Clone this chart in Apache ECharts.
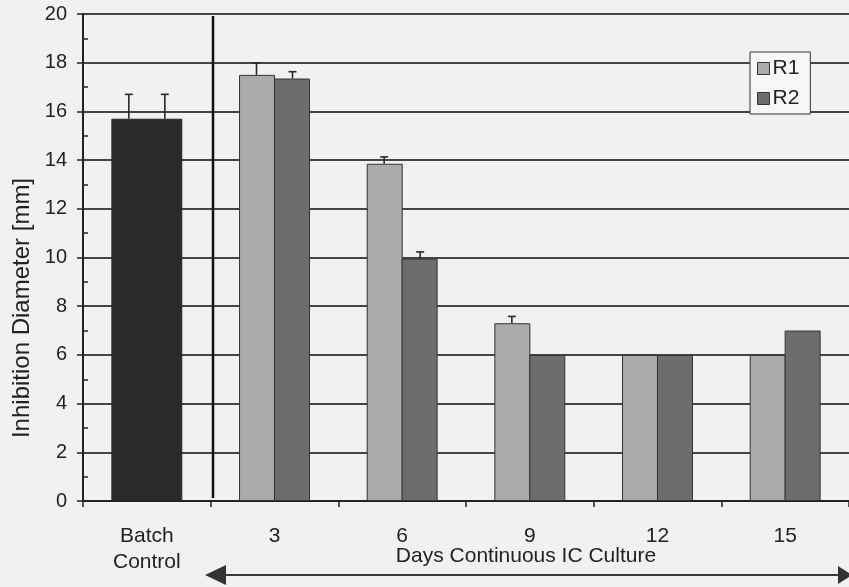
<!DOCTYPE html>
<html>
<head>
<meta charset="utf-8">
<script src="https://cdn.jsdelivr.net/npm/echarts@6/dist/echarts.min.js"></script>
<style>
  html, body { margin: 0; padding: 0; background: #f1f1f1; }
  #chart { width: 849px; height: 587px; }
</style>
</head>
<body>
<div id="chart"></div>
<script>
// ---- data ----
const categories = ['Batch\nControl', '3', '6', '9', '12', '15'];
const seriesNames = ['R1', 'R2'];
const r1Values = [15.7, 17.5, 13.85, 7.3, 6.0, 6.0];
const r2Values = [15.7, 17.35, 9.95, 6.0, 6.0, 7.0];
const r1Errors = [1.0, 0.48, 0.28, 0.28, 0, 0];
const r2Errors = [1.0, 0.28, 0.28, 0, 0, 0];
const yTicks = { min: 0, max: 20, interval: 2 };
const yAxisTitle = 'Inhibition Diameter [mm]';
const xAxisTitle = 'Days Continuous IC Culture';

// ---- styles ----
const FONT = 'Liberation Sans, Arial, Helvetica, sans-serif';
const TEXT = '#222';
const R1_COLOR = '#ababab';
const R2_COLOR = '#6d6d6d';
const BATCH_COLOR = '#2a2a2a';
const BAR_FRAC = 0.282;

const chart = echarts.init(document.getElementById('chart'), null, { renderer: 'canvas' });

function barData(values) {
  return values.map((v, i) => i === 0
    ? { value: v, itemStyle: { color: BATCH_COLOR, borderColor: BATCH_COLOR, borderWidth: 1 } }
    : v);
}

function errData(values, errs) {
  return values.map((v, i) => [i, v, errs[i]]);
}

function errRender(sign) {
  return function (params, api) {
    const idx = api.value(0), v = api.value(1), e = api.value(2);
    if (!e) return null;
    const bw = api.size([1, 0])[0];
    const off = sign * bw * BAR_FRAC / 2;
    const p0 = api.coord([idx, v]);
    const p1 = api.coord([idx, v + e]);
    const x = p0[0] + off;
    const style = { stroke: '#2a2a2a', lineWidth: 1.6 };
    return {
      type: 'group',
      children: [
        { type: 'line', shape: { x1: x, y1: p0[1], x2: x, y2: p1[1] }, style: style },
        { type: 'line', shape: { x1: x - 4, y1: p1[1], x2: x + 4, y2: p1[1] }, style: style }
      ]
    };
  };
}

const option = {
  backgroundColor: '#f1f1f1',
  animation: false,
  textStyle: { fontFamily: FONT },
  grid: { left: 83, top: 14, width: 766, height: 487, containLabel: false },
  legend: {
    data: seriesNames,
    orient: 'vertical',
    left: 750,
    top: 52,
    padding: [6, 11, 5, 7],
    itemGap: 9,
    itemWidth: 12,
    itemHeight: 12,
    icon: 'rect',
    backgroundColor: '#f7f7f7',
    borderColor: '#333',
    borderWidth: 1,
    borderRadius: 0,
    textStyle: { fontSize: 21, color: TEXT, fontFamily: FONT, padding: [0, 0, 0, -2] },
    itemStyle: { borderColor: '#333', borderWidth: 1 }
  },
  xAxis: {
    type: 'category',
    data: categories,
    boundaryGap: true,
    axisLine: { show: true, lineStyle: { color: '#222', width: 2 } },
    axisTick: { show: true, length: 6, alignWithLabel: false, lineStyle: { color: '#222', width: 1.5 } },
    axisLabel: { fontSize: 21, color: TEXT, margin: 22, lineHeight: 26, interval: 0, fontFamily: FONT },
    splitLine: { show: false }
  },
  yAxis: [
    {
      type: 'value',
      min: yTicks.min,
      max: yTicks.max,
      interval: yTicks.interval,
      axisLine: { show: true, lineStyle: { color: '#222', width: 2 } },
      axisTick: { show: true, length: 6, lineStyle: { color: '#222', width: 1.5 } },
      axisLabel: { fontSize: 20, color: TEXT, margin: 16, fontFamily: FONT },
      splitLine: { show: true, lineStyle: { color: '#454545', width: 2 } }
    },
    {
      type: 'value',
      position: 'left',
      min: yTicks.min,
      max: yTicks.max,
      interval: yTicks.interval,
      axisLine: { show: false },
      axisTick: { show: false, inside: true },
      minorTick: { show: true, splitNumber: 2, length: 5, lineStyle: { color: '#222', width: 1.5 } },
      axisLabel: { show: false },
      splitLine: { show: false }
    }
  ],
  series: [
    {
      name: 'R1', type: 'bar', barWidth: (BAR_FRAC * 100) + '%', barGap: '-3%',
      itemStyle: { color: R1_COLOR, borderColor: '#333', borderWidth: 1 },
      data: barData(r1Values), z: 2
    },
    {
      name: 'R2', type: 'bar', barWidth: (BAR_FRAC * 100) + '%', barGap: '-3%',
      itemStyle: { color: R2_COLOR, borderColor: '#333', borderWidth: 1 },
      data: barData(r2Values), z: 2
    },
    {
      name: 'R1 err', type: 'custom', renderItem: errRender(-1),
      encode: { x: 0, y: 1 }, data: errData(r1Values, r1Errors), z: 3
    },
    {
      name: 'R2 err', type: 'custom', renderItem: errRender(1),
      encode: { x: 0, y: 1 }, data: errData(r2Values, r2Errors), z: 3
    }
  ],
  graphic: [
    {
      type: 'text', z: 10,
      x: 22, y: 308, rotation: Math.PI / 2,
      style: { text: yAxisTitle, fontSize: 24, fill: TEXT, fontFamily: FONT, align: 'center', verticalAlign: 'middle' }
    },
    {
      type: 'text', z: 10,
      x: 526, y: 556,
      style: { text: xAxisTitle, fontSize: 21, fill: TEXT, fontFamily: FONT, align: 'center', verticalAlign: 'middle' }
    },
    {
      type: 'line', z: 10,
      shape: { x1: 213, y1: 16, x2: 213, y2: 498 },
      style: { stroke: '#111', lineWidth: 2.5 }
    },
    {
      type: 'line', z: 10,
      shape: { x1: 222, y1: 575, x2: 840, y2: 575 },
      style: { stroke: '#3a3a3a', lineWidth: 2 }
    },
    {
      type: 'polygon', z: 10,
      shape: { points: [[205, 575], [226, 565], [226, 585]] },
      style: { fill: '#333' }
    },
    {
      type: 'polygon', z: 10,
      shape: { points: [[852, 575], [838, 566], [838, 584]] },
      style: { fill: '#333' }
    }
  ]
};

chart.setOption(option);
</script>
</body>
</html>
